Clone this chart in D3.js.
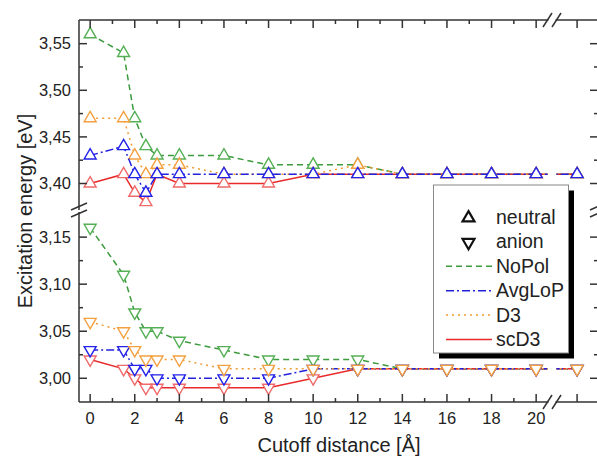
<!DOCTYPE html>
<html><head><meta charset="utf-8">
<script src="https://cdn.jsdelivr.net/npm/d3@7"></script>
<style>
html,body{margin:0;padding:0;background:#fff;}
svg{display:block;font-family:"Liberation Sans",Arial,sans-serif;}
</style></head>
<body>
<svg id="chart" width="597" height="459"></svg>
<script>
// ---------- data ----------
const xVals = [0, 1.5, 2, 2.5, 3, 4, 6, 8, 10, 12, 14, 16, 18, 20, 22];
const xTickLabels = [0, 2, 4, 6, 8, 10, 12, 14, 16, 18, 20];
const xMajorTicks = [0, 2, 4, 6, 8, 10, 12, 14, 16, 18, 20, 22];
const xMinorTicks = [1, 3, 5, 7, 9, 11, 13, 15, 17, 19];

const neutralNoPol  = [3.56, 3.54, 3.47, 3.44, 3.43, 3.43, 3.43, 3.42, 3.42, 3.42, 3.41, 3.41, 3.41, 3.41, 3.41];
const neutralAvgLoP = [3.43, 3.44, 3.41, 3.39, 3.41, 3.41, 3.41, 3.41, 3.41, 3.41, 3.41, 3.41, 3.41, 3.41, 3.41];
const neutralD3     = [3.47, 3.47, 3.43, 3.41, 3.42, 3.42, 3.41, 3.41, 3.41, 3.42, 3.41, 3.41, 3.41, 3.41, 3.41];
const neutralScD3   = [3.40, 3.41, 3.39, 3.38, 3.41, 3.40, 3.40, 3.40, 3.41, 3.41, 3.41, 3.41, 3.41, 3.41, 3.41];

const anionNoPol  = [3.16, 3.11, 3.07, 3.05, 3.05, 3.04, 3.03, 3.02, 3.02, 3.02, 3.01, 3.01, 3.01, 3.01, 3.01];
const anionAvgLoP = [3.03, 3.03, 3.01, 3.01, 3.00, 3.00, 3.00, 3.00, 3.01, 3.01, 3.01, 3.01, 3.01, 3.01, 3.01];
const anionD3     = [3.06, 3.05, 3.03, 3.02, 3.02, 3.02, 3.01, 3.01, 3.01, 3.01, 3.01, 3.01, 3.01, 3.01, 3.01];
const anionScD3   = [3.02, 3.01, 3.00, 2.99, 2.99, 2.99, 2.99, 2.99, 3.00, 3.01, 3.01, 3.01, 3.01, 3.01, 3.01];

const upperMajor = [3.40, 3.45, 3.50, 3.55];
const upperMinor = [3.425, 3.475, 3.525];
const lowerMajor = [3.00, 3.05, 3.10, 3.15];
const lowerMinor = [3.025, 3.075, 3.125];

const seriesNames = ["NoPol", "AvgLoP", "D3", "scD3"];
const stateNames = ["neutral", "anion"];

// ---------- styles ----------
const style = {
  NoPol:  {line: "#3d9a3d", marker: "#55b055", dash: "6,4"},
  AvgLoP: {line: "#2222dd", marker: "#2222e8", dash: "8,3,2,3"},
  D3:     {line: "#f29a33", marker: "#f4a040", dash: "2,4"},
  scD3:   {line: "#e82a2a", marker: "#f06a6a", dash: null}
};

const svg = d3.select("#chart");
const L = 79, R = 598, T = 20, B = 402;
const upperBottom = 207, lowerTop = 215;
const gapL = 547.5, gapR = 556.5;

// piecewise x scale (broken axis)
const xs1 = d3.scaleLinear().domain([-0.5, 20.5]).range([L, 547.3]);
const xs2 = d3.scaleLinear().domain([21.1, 22.9]).range([557, 597.2]);
const x = v => (v <= 20.5 ? xs1(v) : xs2(v));

const yU = d3.scaleLinear().domain([3.3748, 3.5754]).range([upperBottom, T]);
const yL = d3.scaleLinear().domain([2.9748, 3.1735]).range([B, lowerTop]);

const fmt = v => d3.format(".2f")(v).replace(".", ",");

// clip paths for the x break
const defs = svg.append("defs");
defs.append("clipPath").attr("id", "c1").append("rect")
  .attr("x", L).attr("y", 0).attr("width", gapL - L).attr("height", 459);
defs.append("clipPath").attr("id", "c2").append("rect")
  .attr("x", gapR).attr("y", 0).attr("width", 597 - gapR).attr("height", 459);

const tri = d3.symbol().type(d3.symbolTriangle).size(62);

function drawPanel(yScale, valsMap, order, down) {
  order.forEach(name => {
    const st = style[name];
    const vals = valsMap[name];
    const pts = xVals.map((xv, i) => [x(xv), yScale(vals[i])]);
    const line = d3.line();
    ["c1", "c2"].forEach(c => {
      svg.append("path").attr("d", line(pts))
        .attr("clip-path", `url(#${c})`)
        .attr("fill", "none").attr("stroke", st.line)
        .attr("stroke-width", 1.5)
        .attr("stroke-dasharray", st.dash);
    });
    svg.append("g").selectAll("path").data(pts).join("path")
      .attr("d", tri)
      .attr("transform", d => `translate(${d[0]},${d[1]})` + (down ? " rotate(180)" : ""))
      .attr("fill", "#fff").attr("stroke", st.marker).attr("stroke-width", 1.4);
  });
}

drawPanel(yU, {NoPol: neutralNoPol, AvgLoP: neutralAvgLoP, D3: neutralD3, scD3: neutralScD3},
  ["NoPol", "scD3", "D3", "AvgLoP"], false);
drawPanel(yL, {NoPol: anionNoPol, AvgLoP: anionAvgLoP, D3: anionD3, scD3: anionScD3},
  ["NoPol", "scD3", "AvgLoP", "D3"], true);

// ---------- axes ----------
const axisCol = "#333";
const ax = svg.append("g").attr("stroke", axisCol).attr("stroke-width", 1.5).attr("fill", "none");
// left & right vertical axes (two panels)
[L, R].forEach(xx => {
  ax.append("line").attr("x1", xx).attr("x2", xx).attr("y1", T).attr("y2", upperBottom + 3);
  ax.append("line").attr("x1", xx).attr("x2", xx).attr("y1", lowerTop - 3).attr("y2", B);
});
// top & bottom horizontal axes (two pieces)
[T, B].forEach(yy => {
  ax.append("line").attr("x1", L).attr("x2", gapL + 1).attr("y1", yy).attr("y2", yy);
  ax.append("line").attr("x1", gapR - 1).attr("x2", R).attr("y1", yy).attr("y2", yy);
});
// x ticks
xMajorTicks.forEach(v => {
  ax.append("line").attr("x1", x(v)).attr("x2", x(v)).attr("y1", B).attr("y2", B - 8);
  ax.append("line").attr("x1", x(v)).attr("x2", x(v)).attr("y1", T).attr("y2", T + 8);
});
xMinorTicks.forEach(v => {
  ax.append("line").attr("x1", x(v)).attr("x2", x(v)).attr("y1", B).attr("y2", B - 4);
  ax.append("line").attr("x1", x(v)).attr("x2", x(v)).attr("y1", T).attr("y2", T + 4);
});
// y ticks
function yTicks(scale, major, minor) {
  major.forEach(v => {
    ax.append("line").attr("x1", L).attr("x2", L + 8).attr("y1", scale(v)).attr("y2", scale(v));
    ax.append("line").attr("x1", R).attr("x2", R - 8).attr("y1", scale(v)).attr("y2", scale(v));
  });
  minor.forEach(v => {
    ax.append("line").attr("x1", L).attr("x2", L + 4).attr("y1", scale(v)).attr("y2", scale(v));
    ax.append("line").attr("x1", R).attr("x2", R - 4).attr("y1", scale(v)).attr("y2", scale(v));
  });
}
yTicks(yU, upperMajor, upperMinor);
yTicks(yL, lowerMajor, lowerMinor);

// break marks
const brk = svg.append("g").attr("stroke", axisCol).attr("stroke-width", 1.5);
[L, R].forEach(xx => {
  brk.append("line").attr("x1", xx - 8).attr("y1", 210).attr("x2", xx + 8).attr("y2", 203);
  brk.append("line").attr("x1", xx - 8).attr("y1", 217).attr("x2", xx + 8).attr("y2", 210);
});
[T, B].forEach(yy => {
  brk.append("line").attr("x1", gapL - 4.5).attr("y1", yy + 7).attr("x2", gapL + 4.5).attr("y2", yy - 7);
  brk.append("line").attr("x1", gapR - 4.5).attr("y1", yy + 7).attr("x2", gapR + 4.5).attr("y2", yy - 7);
});

// tick labels
const txt = svg.append("g").attr("fill", "#222").attr("font-size", 16.5);
xTickLabels.forEach(v => {
  txt.append("text").attr("x", x(v)).attr("y", 424).attr("text-anchor", "middle").text(v);
});
upperMajor.concat([]).forEach(v => {
  txt.append("text").attr("x", 71).attr("y", yU(v)).attr("dy", "0.35em").attr("text-anchor", "end").text(fmt(v));
});
lowerMajor.forEach(v => {
  txt.append("text").attr("x", 71).attr("y", yL(v)).attr("dy", "0.35em").attr("text-anchor", "end").text(fmt(v));
});

// axis titles
svg.append("text").attr("x", 339).attr("y", 452).attr("text-anchor", "middle")
  .attr("font-size", 20).attr("fill", "#222").text("Cutoff distance [Å]");
svg.append("text").attr("transform", "translate(31.5,211) rotate(-90)").attr("text-anchor", "middle")
  .attr("font-size", 20).attr("fill", "#222").text("Excitation energy [eV]");

// ---------- legend ----------
const lg = svg.append("g");
const lx = 433.5, ly = 185, lw = 135, lh = 168;
lg.append("rect").attr("x", lx + 5.5).attr("y", ly + 5.5).attr("width", lw).attr("height", lh).attr("fill", "#000");
lg.append("rect").attr("x", lx).attr("y", ly).attr("width", lw).attr("height", lh)
  .attr("fill", "#fff").attr("stroke", "#888").attr("stroke-width", 1);
const rowY = i => 224 + i * 24.4;
stateNames.forEach((s, i) => {
  lg.append("path").attr("d", tri)
    .attr("transform", `translate(468.5,${rowY(i) - 6})` + (i === 1 ? " rotate(180)" : ""))
    .attr("fill", "#fff").attr("stroke", "#111").attr("stroke-width", 2.2);
  lg.append("text").attr("x", 496).attr("y", rowY(i)).attr("font-size", 19.5).attr("fill", "#222").text(s);
});
seriesNames.forEach((s, j) => {
  const i = j + 2, st = style[s];
  lg.append("line").attr("x1", 446).attr("x2", 492).attr("y1", rowY(i) - 6.5).attr("y2", rowY(i) - 6.5)
    .attr("stroke", st.line).attr("stroke-width", 1.5).attr("stroke-dasharray", st.dash);
  lg.append("text").attr("x", 496).attr("y", rowY(i)).attr("font-size", 19.5).attr("fill", "#222").text(s);
});
</script>
</body></html>
